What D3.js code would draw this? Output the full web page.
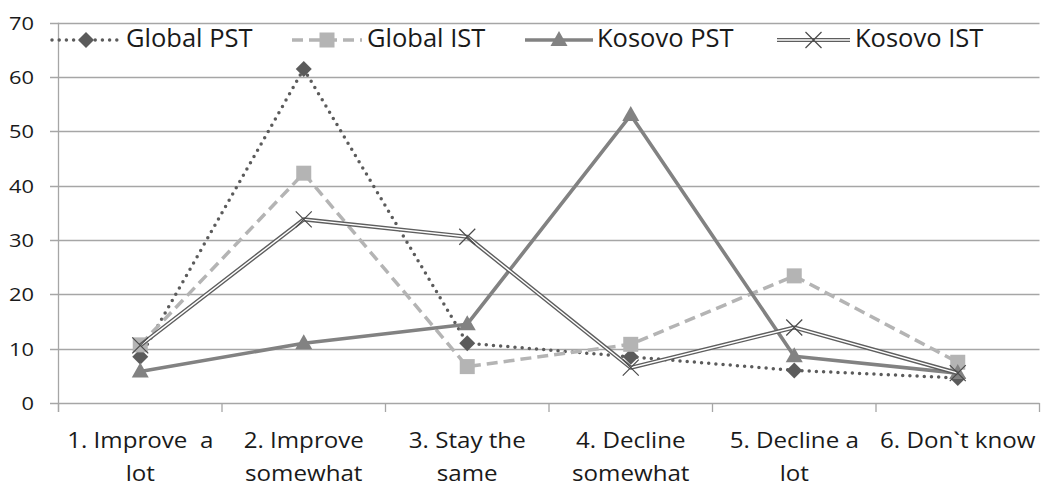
<!DOCTYPE html>
<html><head><meta charset="utf-8">
<script src="https://cdn.jsdelivr.net/npm/d3@7"></script>
<style>
html,body{margin:0;padding:0;background:#fff;}
svg{display:block;font-family:"Open Sans",sans-serif;}
</style></head>
<body><svg id="c" width="1041" height="486"></svg>
<script>
const categories = [
  ["1. Improve  a","lot"],
  ["2. Improve","somewhat"],
  ["3. Stay the","same"],
  ["4. Decline","somewhat"],
  ["5. Decline a","lot"],
  ["6. Don`t know"]
];
const seriesNames = ["Global PST","Global IST","Kosovo PST","Kosovo IST"];
const globalPST = [8.5, 61.5, 11, 8.5, 6, 4.6];
const globalIST = [10.7, 42.3, 6.7, 10.8, 23.4, 7.5];
const kosovoPST = [5.8, 11, 14.5, 53, 8.6, 5.5];
const kosovoIST = [10.6, 33.8, 30.6, 6.5, 13.9, 5.5];
const yTicks = [0,10,20,30,40,50,60,70];

const svg = d3.select("#c");
const pL = 58.5, pR = 1039.5, pT = 22.7, pB = 403;
const sx = 1.15;
const x = d3.scaleBand().domain(d3.range(categories.length)).range([pL,pR]);
const y = d3.scaleLinear().domain([0,70]).range([pB,pT]);
const cx = i => x(i) + x.bandwidth()/2;

// gridlines
svg.append("g").selectAll("line").data(yTicks).join("line")
  .attr("x1",50).attr("x2",pR).attr("y1",d=>Math.round(y(d))+0.5).attr("y2",d=>Math.round(y(d))+0.5)
  .attr("stroke","#a6a6a6").attr("stroke-width",1.3);
// y axis line
svg.append("line").attr("x1",pL).attr("x2",pL).attr("y1",pT).attr("y2",pB+9)
  .attr("stroke","#a6a6a6").attr("stroke-width",1.3);
// category ticks
svg.append("g").selectAll("line").data(d3.range(categories.length+1)).join("line")
  .attr("x1",i=> i<categories.length? x(i): pR).attr("x2",i=> i<categories.length? x(i): pR)
  .attr("y1",pB).attr("y2",pB+9).attr("stroke","#a6a6a6").attr("stroke-width",1.3);
// y labels
svg.append("g").selectAll("text").data(yTicks).join("text")
  .attr("transform",d=>`translate(34,${y(d)}) scale(${sx},1)`)
  .attr("dy","0.36em").attr("text-anchor","end")
  .attr("font-size",19).attr("fill","#1a1a1a").text(d=>d);
// x labels
const xl = svg.append("g").selectAll("text").data(categories).join("text")
  .attr("transform",(d,i)=>`translate(${cx(i)},448) scale(${sx},1)`).attr("text-anchor","middle")
  .attr("font-size",21).attr("fill","#1a1a1a").style("white-space","pre");
xl.each(function(d){
  const t=d3.select(this);
  d.forEach((s,k)=>t.append("tspan").attr("x",0).attr("dy",k?33:0).text(s));
});

const line = d3.line().x((d,i)=>cx(i)).y(d=>y(d));
const styles = [
  {data:globalPST, color:"#5b5b5b", width:3.5, dash:"0 7.2", cap:"round", marker:"diamond"},
  {data:globalIST, color:"#b4b4b4", width:3.5, dash:"11 6", cap:"butt", marker:"square"},
  {data:kosovoPST, color:"#828282", width:3.6, dash:null, cap:"butt", marker:"triangle"},
  {data:kosovoIST, color:"#5e5e5e", width:4.2, dash:null, cap:"butt", marker:"x", dbl:true}
];
function drawMarker(g, type, px, py, color){
  if(type==="diamond"){
    g.append("path").attr("d",`M${px},${py-8}L${px+8},${py}L${px},${py+8}L${px-8},${py}Z`).attr("fill",color);
  } else if(type==="square"){
    g.append("rect").attr("x",px-7.5).attr("y",py-7.5).attr("width",15).attr("height",15).attr("fill",color);
  } else if(type==="triangle"){
    g.append("path").attr("d",`M${px},${py-9}L${px+8.5},${py+6}L${px-8.5},${py+6}Z`).attr("fill",color);
  } else {
    g.append("path").attr("d",`M${px-8},${py-8}L${px+8},${py+8}M${px-8},${py+8}L${px+8},${py-8}`)
      .attr("stroke","#4a4a4a").attr("stroke-width",1.2).attr("fill","none");
  }
}
styles.forEach(s=>{
  const g = svg.append("g");
  const p = g.append("path").attr("d",line(s.data)).attr("fill","none").attr("stroke",s.color)
    .attr("stroke-width",s.width).attr("stroke-linecap",s.cap).attr("stroke-linejoin","round");
  if(s.dash) p.attr("stroke-dasharray",s.dash);
  if(s.dbl) g.append("path").attr("d",line(s.data)).attr("fill","none").attr("stroke","#fff").attr("stroke-width",1.4);
  s.data.forEach((v,i)=>drawMarker(g,s.marker,cx(i),y(v),s.color));
});

// legend
const legX = [[52,120,126],[292,362,367],[525,593,597],[777,850,855]];
const ly = 40;
styles.forEach((s,k)=>{
  const g = svg.append("g");
  const [a,b,t]=legX[k];
  const p = g.append("line").attr("x1",a).attr("x2",b).attr("y1",ly).attr("y2",ly)
    .attr("stroke",s.color).attr("stroke-width",s.width).attr("stroke-linecap",s.cap);
  if(s.dash) p.attr("stroke-dasharray",s.dash);
  if(s.dbl) g.append("line").attr("x1",a).attr("x2",b).attr("y1",ly).attr("y2",ly).attr("stroke","#fff").attr("stroke-width",1.4);
  drawMarker(g,s.marker,(a+b)/2,ly,s.color);
  g.append("text").attr("x",t).attr("y",47).attr("font-size",25.5)
    .attr("fill","#1a1a1a").text(seriesNames[k]);
});
</script></body></html>
